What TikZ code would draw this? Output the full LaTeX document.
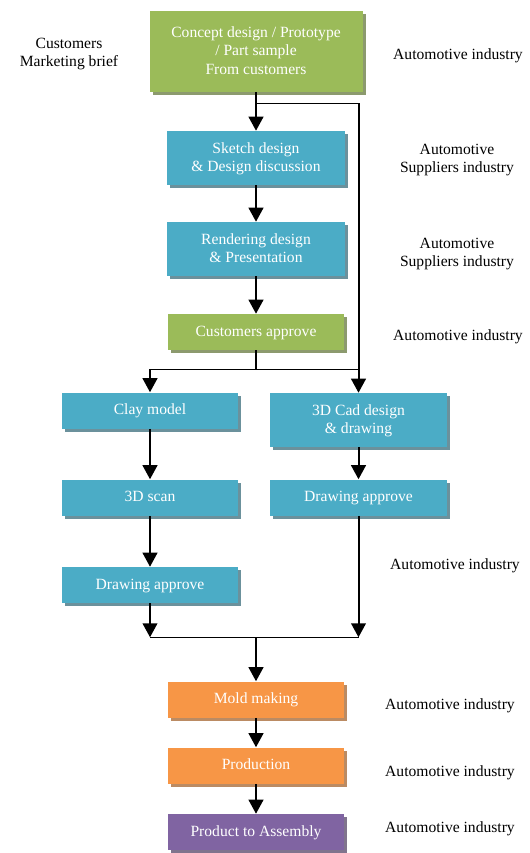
\documentclass[tikz,border=0pt]{standalone}
\usepackage{fontspec}
\setmainfont{Liberation Serif}
\usetikzlibrary{arrows.meta,shadows,positioning}

\definecolor{boxgreen}{RGB}{155,187,89}
\definecolor{boxblue}{RGB}{75,172,198}
\definecolor{boxorange}{RGB}{247,150,70}
\definecolor{boxpurple}{RGB}{128,100,162}

\begin{document}
\begin{tikzpicture}[
    x=0.75pt, y=-0.75pt,
    every node/.style={font=\fontsize{11.7}{13.8}\selectfont},
    step_box/.style={rectangle, text=white, align=center, inner sep=0pt,
        minimum width=132pt, minimum height=27pt, text depth=1.5pt},
    green_box/.style={step_box, fill=boxgreen,
        drop shadow={shadow xshift=2.3pt, shadow yshift=-2.3pt, fill=boxgreen!45!gray, opacity=1}},
    blue_box/.style={step_box, fill=boxblue,
        drop shadow={shadow xshift=2.3pt, shadow yshift=-2.3pt, fill=boxblue!40!gray, opacity=1}},
    orange_box/.style={step_box, fill=boxorange,
        drop shadow={shadow xshift=2.3pt, shadow yshift=-2.3pt, fill=boxorange!50!gray, opacity=1}},
    purple_box/.style={step_box, fill=boxpurple,
        drop shadow={shadow xshift=2.3pt, shadow yshift=-2.3pt, fill=boxpurple!40!gray, opacity=1}},
    flow_arrow/.style={line width=1.5pt, -{Triangle[width=11pt, length=10.5pt]}},
    join_line/.style={line width=1.1pt},
    side_label/.style={align=center, text=black}
]
\useasboundingbox (0,0) rectangle (529,853);

% 流程方框
\node[green_box, minimum width=159.75pt, minimum height=60.75pt] (concept) at (256,51.5)
    {Concept design / Prototype\\/ Part sample\\From customers};
\node[blue_box, minimum width=133.5pt, minimum height=40.5pt] (sketch) at (256,158)
    {Sketch design\\\& Design discussion};
\node[blue_box, minimum width=133.5pt, minimum height=40.5pt] (render) at (256,249)
    {Rendering design\\\& Presentation};
\node[green_box] (approve) at (256,332) {Customers approve};

\node[blue_box] (clay) at (150,410.5) {Clay model};
\node[blue_box, minimum width=133pt, minimum height=40.5pt] (cad) at (358.5,420)
    {3D Cad design\\\& drawing};
\node[blue_box] (scan) at (150,497.5) {3D scan};
\node[blue_box, minimum width=133pt] (drawR) at (358.5,497.5) {Drawing approve};
\node[blue_box] (drawL) at (150,585) {Drawing approve};

\node[orange_box] (mold) at (256,699.5) {Mold making};
\node[orange_box] (prod) at (256,765.5) {Production};
\node[purple_box] (assembly) at (256,832) {Product to Assembly};

% 连接点
\path (concept.south) ++(0,11) coordinate (j1);
\path (approve.south) ++(0,19) coordinate (j2);
\path (drawL.south) ++(0,34) coordinate (j3);

% 箭头
\draw[flow_arrow] (concept) -- (sketch);
\draw[flow_arrow] (sketch) -- (render);
\draw[flow_arrow] (render) -- (approve);
\draw[join_line] (j1) -- (j1 -| cad.north);
\draw[flow_arrow] (j1 -| cad.north) -- (cad);

\draw[line width=1.5pt] (approve) -- (j2);
\draw[join_line] (j2 -| clay.north) -- (j2 -| cad.north);
\draw[flow_arrow] (j2 -| clay.north) -- (clay);

\draw[flow_arrow] (clay) -- (scan);
\draw[flow_arrow] (scan) -- (drawL);
\draw[flow_arrow] (cad) -- (drawR);

\draw[flow_arrow] (drawL) -- (j3);
\draw[flow_arrow] (drawR) -- (j3 -| drawR.south);
\draw[join_line] (j3) -- (j3 -| drawR.south);
\draw[flow_arrow] (j3 -| mold.north) -- (mold);

\draw[flow_arrow] (mold) -- (prod);
\draw[flow_arrow] (prod) -- (assembly);

% 侧边标注
\node[side_label] (cust) at (69,54) {Customers\\Marketing brief};
\node[side_label] (ind1) at (458,56) {Automotive industry};
\node[side_label] (ind2) at (457,160) {Automotive\\Suppliers industry};
\node[side_label] (ind3) at (457,254) {Automotive\\Suppliers industry};
\node[side_label] (ind4) at (458,337) {Automotive industry};
\node[side_label] (ind5) at (455,566) {Automotive industry};
\node[side_label] (ind6) at (450,706) {Automotive industry};
\node[side_label] (ind7) at (450,773) {Automotive industry};
\node[side_label] (ind8) at (450,829) {Automotive industry};

\end{tikzpicture}
\end{document}
